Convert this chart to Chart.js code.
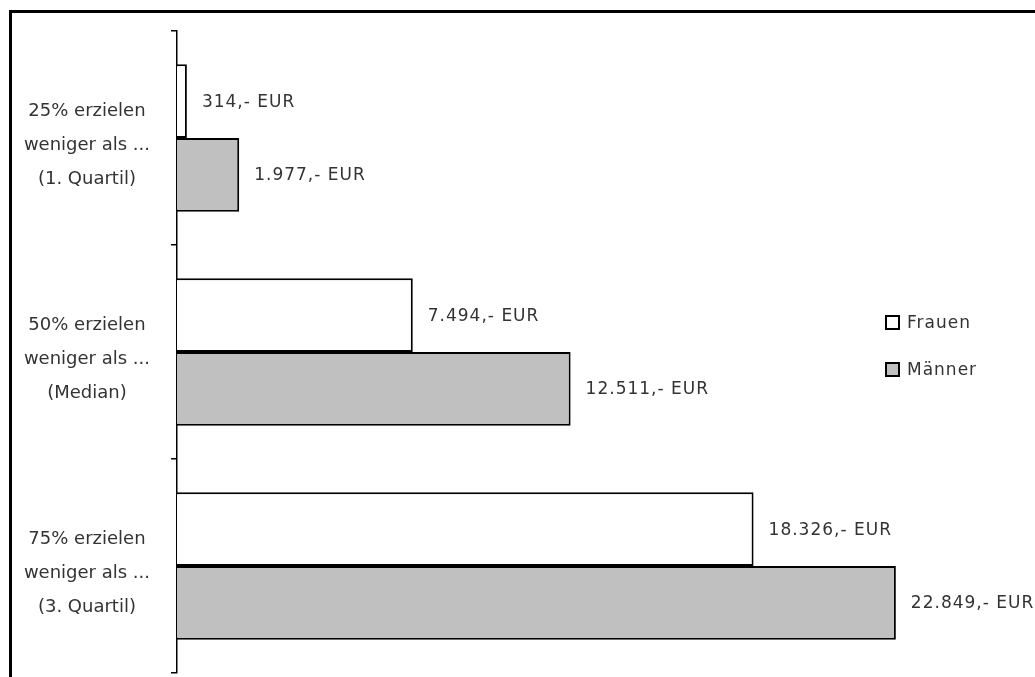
<!DOCTYPE html>
<html>
<head>
<meta charset="utf-8">
<script src="https://cdn.jsdelivr.net/npm/chart.js@4"></script>
<style>
  html, body { margin: 0; padding: 0; background: #fff; }
  #wrap { width: 1035px; height: 677px; position: relative; }
</style>
</head>
<body>
<div id="wrap"><canvas id="chart"></canvas></div>
<script>
// ===== Data =====
const categories = [
  ['25% erzielen', 'weniger als ...', '(1. Quartil)'],
  ['50% erzielen', 'weniger als ...', '(Median)'],
  ['75% erzielen', 'weniger als ...', '(3. Quartil)']
];
const frauen = [314, 7494, 18326];
const maenner = [1977, 12511, 22849];
const seriesNames = ['Frauen', 'Männer'];

const FONT = '"DejaVu Sans", sans-serif';
const TEXT = '#333333';

function euro(v) {
  const s = String(v).replace(/\B(?=(\d{3})+(?!\d))/g, '.');
  return s + ',- EUR';
}

// ===== Frame, value labels and legend =====
const decor = {
  id: 'decor',
  beforeDraw(chart) {
    const ctx = chart.ctx;
    ctx.save();
    ctx.strokeStyle = '#000';
    ctx.lineWidth = 3;
    ctx.strokeRect(10.5, 11.5, chart.width + 20, chart.height + 20);
    ctx.restore();
  },
  afterDatasetsDraw(chart) {
    const ctx = chart.ctx;
    ctx.save();
    ctx.font = '17px ' + FONT;
    ctx.fillStyle = TEXT;
    ctx.textBaseline = 'middle';
    ctx.textAlign = 'left';
    ctx.letterSpacing = '1px';
    chart.data.datasets.forEach((ds, i) => {
      chart.getDatasetMeta(i).data.forEach((bar, j) => {
        ctx.fillText(euro(ds.data[j]), bar.x + 15, bar.y + 1);
      });
    });

    // legend
    const area = chart.chartArea;
    const lx = area.right - 109;
    const midY = (area.top + area.bottom) / 2 - 6;
    chart.data.datasets.forEach((ds, i) => {
      const cy = midY + (i - 0.5) * 47;
      ctx.fillStyle = ds.backgroundColor;
      ctx.fillRect(lx, cy - 6.5, 13, 13);
      ctx.strokeStyle = '#000';
      ctx.lineWidth = 2;
      ctx.strokeRect(lx, cy - 6.5, 13, 13);
      ctx.fillStyle = TEXT;
      ctx.fillText(ds.label, lx + 21, cy + 1);
    });
    ctx.restore();
  }
};

new Chart(document.getElementById('chart'), {
  type: 'bar',
  data: {
    labels: categories,
    datasets: [
      {
        label: seriesNames[0],
        data: frauen,
        backgroundColor: '#ffffff',
        borderColor: '#000',
        borderWidth: 2
      },
      {
        label: seriesNames[1],
        data: maenner,
        backgroundColor: '#c0c0c0',
        borderColor: '#000',
        borderWidth: 2
      }
    ]
  },
  options: {
    indexAxis: 'y',
    responsive: true,
    maintainAspectRatio: false,
    animation: false,
    categoryPercentage: 0.69,
    barPercentage: 1,
    layout: { padding: { left: 10, right: 40, top: 31, bottom: 4 } },
    plugins: {
      legend: { display: false },
      tooltip: { enabled: false }
    },
    scales: {
      x: {
        display: false,
        min: 0,
        max: 26000
      },
      y: {
        // fixed label column, no extra room for the tall multi-line labels
        afterFit(scale) {
          scale.width = 167;
          scale.paddingTop = 0;
          scale.paddingBottom = 0;
        },
        grid: {
          offset: true,
          drawOnChartArea: false,
          tickLength: 6,
          color: '#000',
          lineWidth: 1.5
        },
        border: { color: '#000', width: 1.5 },
        ticks: {
          color: TEXT,
          font: { family: FONT, size: 18, lineHeight: 1.88 },
          crossAlign: 'center',
          padding: 21,
          labelOffset: 7
        }
      }
    }
  },
  plugins: [decor]
});
</script>
</body>
</html>
